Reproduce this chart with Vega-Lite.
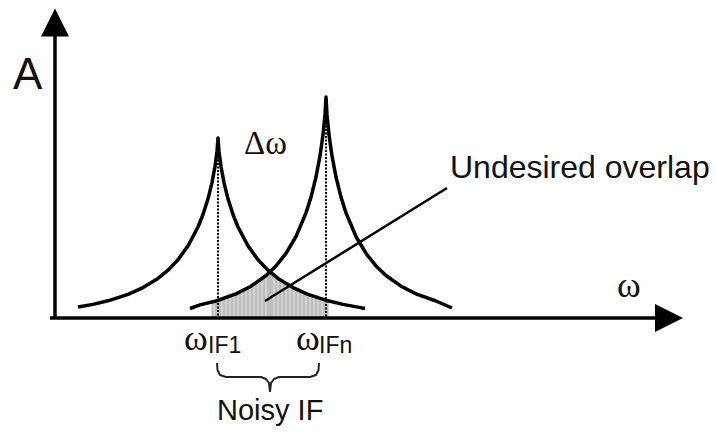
{
  "$schema": "https://vega.github.io/schema/vega-lite/v6.json",
  "width": 716,
  "height": 432,
  "autosize": {"type": "fit", "contains": "padding"},
  "padding": 0,
  "background": "white",
  "config": {"view": {"stroke": null}},
  "datasets": {
    "curves": [
      {"s":"c1","x":78,"y":11},{"s":"c1","x":93,"y":13.6},{"s":"c1","x":108,"y":17.2},{"s":"c1","x":128,"y":23.6},{"s":"c1","x":143,"y":30.4},{"s":"c1","x":158,"y":39.6},{"s":"c1","x":168,"y":47.8},{"s":"c1","x":178,"y":58.3},{"s":"c1","x":188,"y":72.1},{"s":"c1","x":198,"y":91},{"s":"c1","x":203,"y":103.5},{"s":"c1","x":208,"y":119.2},{"s":"c1","x":212,"y":135.4},{"s":"c1","x":215,"y":151.5},{"s":"c1","x":217,"y":166.6},{"s":"c1","x":218,"y":180},{"s":"c1","x":219,"y":166.6},{"s":"c1","x":221,"y":151.5},{"s":"c1","x":224,"y":135.4},{"s":"c1","x":228,"y":119.2},{"s":"c1","x":233,"y":103.5},{"s":"c1","x":238,"y":91},{"s":"c1","x":248,"y":72.1},{"s":"c1","x":258,"y":58.3},{"s":"c1","x":268,"y":47.8},{"s":"c1","x":278,"y":39.6},{"s":"c1","x":293,"y":30.4},{"s":"c1","x":308,"y":23.6},{"s":"c1","x":328,"y":17.2},{"s":"c1","x":343,"y":13.6},{"s":"c1","x":358,"y":10.9},{"s":"c1","x":365,"y":9.5},
      {"s":"c2","x":190,"y":9.5},{"s":"c2","x":200,"y":13.1},{"s":"c2","x":216,"y":17},{"s":"c2","x":236,"y":24.1},{"s":"c2","x":251,"y":31.8},{"s":"c2","x":266,"y":42.5},{"s":"c2","x":276,"y":52.1},{"s":"c2","x":286,"y":64.6},{"s":"c2","x":296,"y":81.5},{"s":"c2","x":306,"y":105.1},{"s":"c2","x":311,"y":120.9},{"s":"c2","x":316,"y":141},{"s":"c2","x":320,"y":162.1},{"s":"c2","x":323,"y":183.2},{"s":"c2","x":325,"y":203.1},{"s":"c2","x":326,"y":221},{"s":"c2","x":327,"y":203.1},{"s":"c2","x":329,"y":183.2},{"s":"c2","x":332,"y":162.1},{"s":"c2","x":336,"y":141},{"s":"c2","x":341,"y":120.9},{"s":"c2","x":346,"y":105.1},{"s":"c2","x":356,"y":81.5},{"s":"c2","x":366,"y":64.6},{"s":"c2","x":376,"y":52.1},{"s":"c2","x":386,"y":42.5},{"s":"c2","x":401,"y":31.8},{"s":"c2","x":416,"y":24.1},{"s":"c2","x":436,"y":17},{"s":"c2","x":452,"y":10}
    ],
    "overlap": [
      {"x":212,"y":16},{"x":216,"y":17},{"x":220,"y":18.4},{"x":224,"y":19.8},{"x":228,"y":21.2},{"x":232,"y":22.7},{"x":236,"y":24.1},{"x":240,"y":26.1},{"x":244,"y":28.2},{"x":248,"y":30.3},{"x":252,"y":32.5},{"x":256,"y":35.3},{"x":260,"y":38.2},{"x":264,"y":41.1},{"x":268,"y":44.4},{"x":270,"y":46},{"x":272,"y":44.5},{"x":276,"y":41.2},{"x":280,"y":38.4},{"x":284,"y":36},{"x":288,"y":33.5},{"x":292,"y":31},{"x":296,"y":28.9},{"x":300,"y":27.2},{"x":304,"y":25.4},{"x":308,"y":23.6},{"x":312,"y":22.3},{"x":316,"y":21},{"x":320,"y":19.8},{"x":324,"y":18.5},{"x":328,"y":17.2}
    ],
    "brace": [
      {"s":"L","i":1,"x":217,"y":-45},{"s":"L","i":2,"x":217.5,"y":-52},{"s":"L","i":3,"x":220,"y":-57},{"s":"L","i":4,"x":226,"y":-59},{"s":"L","i":5,"x":261,"y":-59},{"s":"L","i":6,"x":266,"y":-61},{"s":"L","i":7,"x":269,"y":-65},{"s":"L","i":8,"x":270,"y":-74},
      {"s":"R","i":1,"x":319,"y":-45},{"s":"R","i":2,"x":318.5,"y":-52},{"s":"R","i":3,"x":316,"y":-57},{"s":"R","i":4,"x":310,"y":-59},{"s":"R","i":5,"x":279,"y":-59},{"s":"R","i":6,"x":274,"y":-61},{"s":"R","i":7,"x":271,"y":-65},{"s":"R","i":8,"x":270,"y":-74}
    ]
  },
  "encoding": {
    "x": {"field": "x", "type": "quantitative", "scale": {"domain": [0, 716], "nice": false, "zero": false}, "axis": null},
    "y": {"field": "y", "type": "quantitative", "scale": {"domain": [-114, 318], "nice": false, "zero": false}, "axis": null}
  },
  "layer": [
    {
      "data": {"name": "overlap"},
      "mark": {"type": "area", "color": "#d2d2d2", "interpolate": "linear"},
      "encoding": {"y2": {"datum": 0}}
    },
    {
      "data": {"name": "overlap"},
      "mark": {"type": "rule", "color": "#9c9c9c", "strokeWidth": 0.8},
      "encoding": {"y2": {"datum": 0}}
    },
    {
      "data": {"values": [{"x": 218, "y": 176, "y2": 0}, {"x": 326, "y": 217, "y2": 0}]},
      "mark": {"type": "rule", "color": "black", "strokeWidth": 2, "strokeDash": [2, 1.5]},
      "encoding": {"y2": {"field": "y2"}}
    },
    {
      "data": {"name": "curves"},
      "mark": {"type": "line", "color": "black", "strokeWidth": 3.5, "interpolate": "linear", "strokeJoin": "round"},
      "encoding": {"detail": {"field": "s"}}
    },
    {
      "data": {"values": [{"x": 265, "y": 17}, {"x": 447, "y": 130}]},
      "mark": {"type": "line", "color": "black", "strokeWidth": 2.5},
      "encoding": {}
    },
    {
      "data": {"name": "brace"},
      "mark": {"type": "line", "color": "#222", "strokeWidth": 2, "interpolate": "linear", "strokeJoin": "round"},
      "encoding": {"detail": {"field": "s"}, "order": {"field": "i", "type": "quantitative"}}
    },
    {
      "data": {"values": [{"x": 50, "x2": 660, "y": 0}]},
      "mark": {"type": "rule", "color": "black", "strokeWidth": 3.5},
      "encoding": {"x2": {"field": "x2"}}
    },
    {
      "data": {"values": [{"x": 55, "y": 0, "y2": 290}]},
      "mark": {"type": "rule", "color": "black", "strokeWidth": 3.5},
      "encoding": {"y2": {"field": "y2"}}
    },
    {
      "data": {"values": [{"x": 669, "y": 0}]},
      "mark": {"type": "point", "shape": "M-1,-1L1,0L-1,1Z", "size": 784, "filled": true, "color": "black", "opacity": 1}
    },
    {
      "data": {"values": [{"x": 55, "y": 295.5}]},
      "mark": {"type": "point", "shape": "M-1,1L0,-1L1,1Z", "size": 784, "filled": true, "color": "black", "opacity": 1}
    },
    {
      "data": {"values": [{"x": 13, "y": 229, "t": "A"}]},
      "mark": {"type": "text", "font": "Liberation Sans", "fontSize": 44, "align": "left", "baseline": "alphabetic", "color": "#111"},
      "encoding": {"text": {"field": "t"}}
    },
    {
      "data": {"values": [{"x": 450, "y": 140, "t": "Undesired overlap"}]},
      "mark": {"type": "text", "font": "Liberation Sans", "fontSize": 32, "align": "left", "baseline": "alphabetic", "color": "#111"},
      "encoding": {"text": {"field": "t"}}
    },
    {
      "data": {"values": [{"x": 217, "y": -102, "t": "Noisy IF"}]},
      "mark": {"type": "text", "font": "Liberation Sans", "fontSize": 29, "align": "left", "baseline": "alphabetic", "color": "#111"},
      "encoding": {"text": {"field": "t"}}
    },
    {
      "data": {"values": [{"x": 208, "y": -35, "t": "IF1"}, {"x": 319, "y": -35, "t": "IFn"}]},
      "mark": {"type": "text", "font": "Liberation Sans", "fontSize": 23, "align": "left", "baseline": "alphabetic", "color": "#111"},
      "encoding": {"text": {"field": "t"}}
    },
    {
      "data": {"values": [{"x": 184, "y": -32, "t": "ω"}, {"x": 296, "y": -32, "t": "ω"}, {"x": 617, "y": 21, "t": "ω"}]},
      "mark": {"type": "text", "font": "Liberation Serif", "fontSize": 36, "align": "left", "baseline": "alphabetic", "color": "#111"},
      "encoding": {"text": {"field": "t"}}
    },
    {
      "data": {"values": [{"x": 244, "y": 164, "t": "Δω"}]},
      "mark": {"type": "text", "font": "Liberation Serif", "fontSize": 33, "align": "left", "baseline": "alphabetic", "color": "#111"},
      "encoding": {"text": {"field": "t"}}
    }
  ]
}
